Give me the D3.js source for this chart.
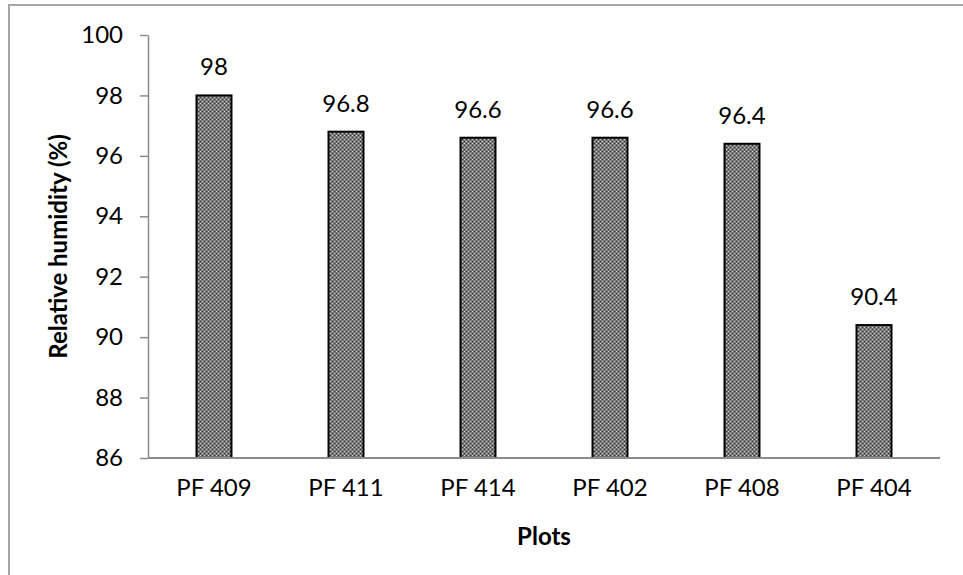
<!DOCTYPE html>
<html>
<head>
<meta charset="utf-8">
<script src="https://cdn.jsdelivr.net/npm/d3@7"></script>
<style>
  html, body { margin: 0; padding: 0; background: #fff; }
  svg { display: block; }
  text { font-family: Lato, "Open Sans", sans-serif; fill: #000; }
</style>
</head>
<body>
<svg id="chart" width="963" height="575"></svg>
<script>
// Relative humidity per plot
const plots = ["PF 409", "PF 411", "PF 414", "PF 402", "PF 408", "PF 404"];
const humidity = [98, 96.8, 96.6, 96.6, 96.4, 90.4];
const yTicks = [86, 88, 90, 92, 94, 96, 98, 100];

const svg = d3.select("#chart");
const W = 963, H = 575;
const margin = { left: 148, right: 23, top: 35, bottom: 117 };
const plotW = W - margin.left - margin.right;
const plotH = H - margin.top - margin.bottom;
const fontSize = 24;

// outer chart frame (runs off the right and bottom edges)
svg.append("rect")
  .attr("x", 9).attr("y", 5)
  .attr("width", 1000).attr("height", 700)
  .attr("fill", "none")
  .attr("stroke", "#a6a6a6")
  .attr("stroke-width", 2);

// checkered fill for the bars
const defs = svg.append("defs");
const pat = defs.append("pattern")
  .attr("id", "checker")
  .attr("patternUnits", "userSpaceOnUse")
  .attr("width", 4).attr("height", 4);
pat.append("rect").attr("width", 4).attr("height", 4).attr("fill", "#787878");
pat.append("rect").attr("x", 0).attr("y", 0).attr("width", 1).attr("height", 1).attr("fill", "#d4d4d4");
pat.append("rect").attr("x", 2).attr("y", 2).attr("width", 1).attr("height", 1).attr("fill", "#d4d4d4");
pat.append("rect").attr("x", 2).attr("y", 0).attr("width", 1).attr("height", 1).attr("fill", "#333333");
pat.append("rect").attr("x", 0).attr("y", 2).attr("width", 1).attr("height", 1).attr("fill", "#333333");

const g = svg.append("g").attr("transform", `translate(${margin.left},${margin.top})`);

const x = d3.scaleBand().domain(plots).range([0, plotW]).paddingInner(0.735).paddingOuter(0.3675);
const y = d3.scaleLinear().domain([86, 100]).range([plotH, 0]);

// y axis
const yAxis = g.append("g").call(
  d3.axisLeft(y).tickValues(yTicks).tickSize(8).tickSizeOuter(0).tickPadding(17)
);
yAxis.select(".domain").attr("stroke", "#8c8c8c").attr("stroke-width", 1.5);
yAxis.selectAll(".tick line").attr("stroke", "#8c8c8c").attr("stroke-width", 1.5);
yAxis.selectAll(".tick text")
  .attr("font-size", fontSize)
  .style("font-family", "Lato, 'Open Sans', sans-serif");

// bars
g.selectAll("rect.bar")
  .data(humidity)
  .join("rect")
  .attr("class", "bar")
  .attr("x", (d, i) => x(plots[i]))
  .attr("y", d => y(d))
  .attr("width", x.bandwidth())
  .attr("height", d => plotH - y(d))
  .attr("fill", "url(#checker)")
  .attr("stroke", "#000")
  .attr("stroke-width", 2);

// x axis line
g.append("line")
  .attr("x1", 0).attr("x2", plotW)
  .attr("y1", plotH).attr("y2", plotH)
  .attr("stroke", "#8c8c8c")
  .attr("stroke-width", 2);

// category labels
g.selectAll("text.cat")
  .data(plots)
  .join("text")
  .attr("class", "cat")
  .attr("x", d => x(d) + x.bandwidth() / 2)
  .attr("y", plotH + 38)
  .attr("text-anchor", "middle")
  .attr("font-size", fontSize)
  .text(d => d);

// value labels
g.selectAll("text.val")
  .data(humidity)
  .join("text")
  .attr("class", "val")
  .attr("x", (d, i) => x(plots[i]) + x.bandwidth() / 2)
  .attr("y", d => y(d) - 20)
  .attr("text-anchor", "middle")
  .attr("font-size", fontSize)
  .text(d => d);

// axis titles
g.append("text")
  .attr("x", plotW / 2)
  .attr("y", plotH + 87)
  .attr("text-anchor", "middle")
  .attr("font-size", fontSize)
  .attr("font-weight", "bold")
  .text("Plots");

g.append("text")
  .attr("transform", `translate(${57 - margin.left},${plotH / 2}) rotate(-90)`)
  .attr("text-anchor", "middle")
  .attr("dominant-baseline", "central")
  .attr("font-size", fontSize)
  .attr("font-weight", "bold")
  .text("Relative humidity (%)");
</script>
</body>
</html>
